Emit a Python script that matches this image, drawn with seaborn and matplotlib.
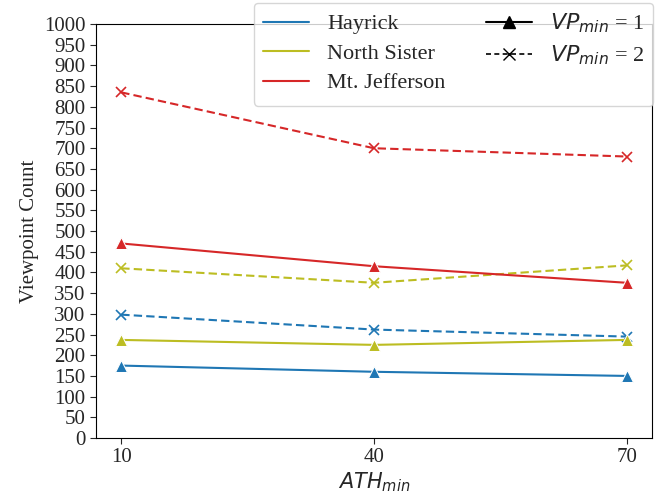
import matplotlib
matplotlib.use("Agg")
import matplotlib.pyplot as plt
from matplotlib.lines import Line2D
import seaborn as sns
import pandas as pd

ath = [10, 40, 70]
mountains = ["Hayrick", "North Sister", "Mt. Jefferson"]
colors = ["#1f77b4", "#bcbd22", "#d62728"]
vp1 = {
    "Hayrick": [175, 160, 150],
    "North Sister": [237, 225, 237],
    "Mt. Jefferson": [470, 415, 375],
}
vp2 = {
    "Hayrick": [298, 262, 245],
    "North Sister": [410, 375, 417],
    "Mt. Jefferson": [835, 700, 680],
}
yticks = list(range(0, 1001, 50))

rows = []
for m in mountains:
    for x, v in zip(ath, vp1[m]):
        rows.append((m, "1", x, v))
    for x, v in zip(ath, vp2[m]):
        rows.append((m, "2", x, v))
df = pd.DataFrame(rows, columns=["mountain", "vp", "ath", "count"])

sns.set_style("ticks")
plt.rcParams["font.family"] = ["Liberation Serif", "DejaVu Serif"]
plt.rcParams["mathtext.fontset"] = "dejavusans"

fig = plt.figure(figsize=(6.68, 5.01), dpi=100)
ax = fig.add_axes([0.1437, 0.1257, 0.8323, 0.8263])

sns.lineplot(data=df, x="ath", y="count", hue="mountain", style="vp",
             hue_order=mountains, palette=colors, style_order=["1", "2"],
             markers={"1": "^", "2": "X"}, dashes={"1": "", "2": (4, 2)},
             markersize=8, linewidth=1.5, legend=False, ax=ax)
# replace 'X' filled markers with thin 'x'
for line in ax.get_lines():
    if line.get_marker() == "X":
        line.set_marker("x")
        line.set_markeredgecolor(line.get_color())
        line.set_markersize(7)
        line.set_markeredgewidth(1.2)

ax.set_ylim(0, 1000)
ax.set_yticks(yticks)
ax.set_xticks(ath)
ax.tick_params(labelsize=15, length=4, direction="out")
ax.set_ylabel("Viewpoint Count", fontsize=15)
ax.set_xlabel("$ATH_{min}$", fontsize=15, labelpad=2)
for s in ax.spines.values():
    s.set_visible(True)
    s.set_color("black")
    s.set_linewidth(0.8)

handles = [Line2D([], [], color=c, lw=1.5) for c in colors]
handles += [
    Line2D([], [], color="black", lw=1.5, marker="^", markersize=9),
    Line2D([], [], color="black", lw=1.2, ls=(0, (3, 2)), marker="x", markersize=8),
    Line2D([], [], color="none"),
]
labels = mountains + ["$VP_{min}$ = 1", "$VP_{min}$ = 2", ""]
ax.legend(handles, labels, ncol=2, loc="upper right", bbox_to_anchor=(1.002, 1.052),
          borderaxespad=0, fontsize=16, frameon=True, framealpha=0.8,
          handlelength=2.1, columnspacing=1.8, labelspacing=0.4)

fig.savefig("out.png", dpi=100)
